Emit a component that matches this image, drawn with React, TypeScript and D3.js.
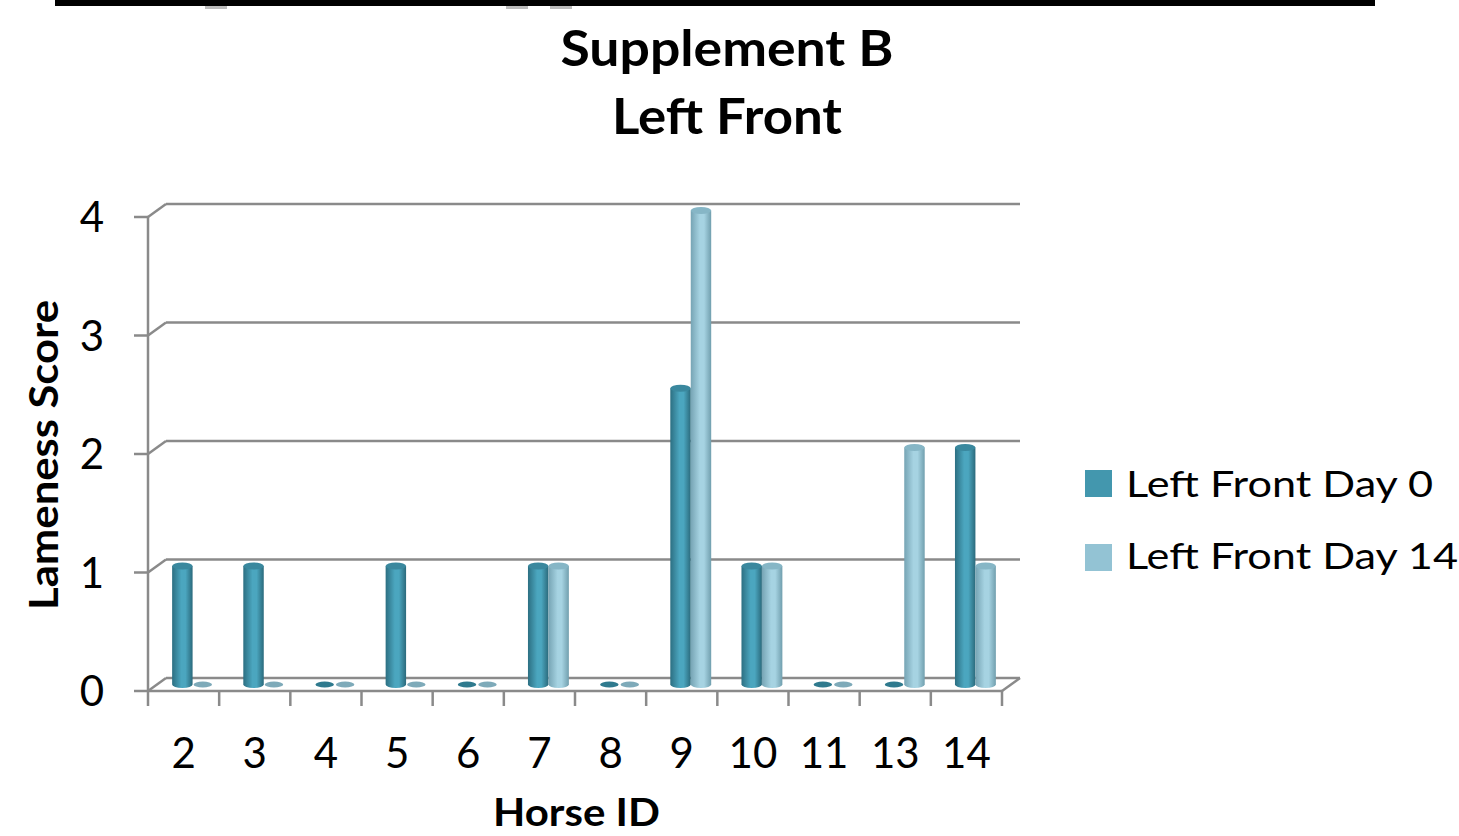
import React from "react";
import * as d3 from "d3";

const categories = ["2", "3", "4", "5", "6", "7", "8", "9", "10", "11", "13", "14"];
const seriesNames = ["Left Front Day 0", "Left Front Day 14"];
const day0 = [1, 1, 0, 1, 0, 1, 0, 2.5, 1, 0, 0, 2];
const day14 = [0, 0, 0, 0, 0, 1, 0, 4, 1, 0, 2, 1];
const yTicks = [0, 1, 2, 3, 4];
const titleLines = ["Supplement B", "Left Front"];
const xTitle = "Horse ID";
const yTitle = "Lameness Score";

const W = 1459;
const H = 836;
const FONT = "Lato, 'Open Sans', sans-serif";

const palettes = [
  { left: "#2c6f82", mid: "#4ba6bf", right: "#2b6a7c", top: "#3a889e", swatch: "#4397ae", flat: "#2f7a8e" },
  { left: "#76a4b4", mid: "#a6d3e2", right: "#719fae", top: "#86b6c6", swatch: "#93c3d4", flat: "#7eaab9" },
];

const titleLens = [333, 230];
const legendLens = [307, 332];

export default function App() {
  const x = d3.scaleBand<string>().domain(categories).range([148, 1002]).padding(0);
  const y = d3.scaleLinear().domain([0, 4]).range([691, 217]);
  const inner = d3.scaleBand<string>().domain(seriesNames).range([0, x.bandwidth()]).paddingInner(0).paddingOuter(0.74);
  const dx = 18, dy = -13;
  const mx = dx / 2, my = dy / 2;
  const seriesData = [day0, day14];
  const bw = inner.bandwidth();
  const rx = bw / 2;
  const ry = 3.5;
  const grid = "#8a8a8a";

  const bars: React.ReactNode[] = [];
  categories.forEach((c, i) => {
    seriesNames.forEach((s, k) => {
      const v = seriesData[k][i];
      const x0 = (x(c) as number) + (inner(s) as number) + mx;
      const x1 = x0 + bw;
      const cx = x0 + rx;
      const yb = y(0) + my;
      const yt = y(v) + my;
      const p = palettes[k];
      if (v === 0) {
        bars.push(<ellipse key={`${c}-${s}`} cx={cx} cy={yb} rx={rx - 1} ry={ry - 0.5} fill={p.flat} />);
      } else {
        const d = `M${x0},${yt} L${x0},${yb} A${rx},${ry} 0 0 0 ${x1},${yb} L${x1},${yt} Z`;
        bars.push(
          <g key={`${c}-${s}`}>
            <path d={d} fill={`url(#g${k})`} />
            <ellipse cx={cx} cy={yt} rx={rx} ry={ry} fill={p.top} />
          </g>
        );
      }
    });
  });

  return (
    <svg width={W} height={H} style={{ position: "absolute", left: 0, top: 0, background: "#fff" }}>
      <defs>
        {palettes.map((p, k) => (
          <linearGradient key={k} id={`g${k}`} x1="0" x2="1" y1="0" y2="0">
            <stop offset="0" stopColor={p.left} />
            <stop offset="0.45" stopColor={p.mid} />
            <stop offset="0.65" stopColor={p.mid} />
            <stop offset="1" stopColor={p.right} />
          </linearGradient>
        ))}
      </defs>
      <rect x={0} y={0} width={W} height={H} fill="#fff" />
      {/* top black bar remnant */}
      <rect x={55} y={0} width={1320} height={6} fill="#000" />
      <rect x={205} y={6} width={22} height={3} fill="#bbb" />
      <rect x={506} y={6} width={22} height={3} fill="#bbb" />
      <rect x={550} y={6} width={22} height={3} fill="#bbb" />

      {/* titles */}
      {titleLines.map((t, i) => (
        <text key={t} x={727} y={66 + i * 68} textAnchor="middle" fontFamily={FONT} fontWeight="bold" fontSize={50}
          textLength={titleLens[i]} lengthAdjust="spacingAndGlyphs" fill="#000">
          {t}
        </text>
      ))}

      {/* back wall gridlines */}
      {yTicks.map((t) => (
        <g key={`g${t}`}>
          <line x1={148} y1={y(t)} x2={148 + dx} y2={y(t) + dy} stroke={grid} strokeWidth={2.5} />
          <line x1={148 + dx} y1={y(t) + dy} x2={1002 + dx} y2={y(t) + dy} stroke={grid} strokeWidth={2.5} />
          <line x1={134} y1={y(t)} x2={148} y2={y(t)} stroke={grid} strokeWidth={2.5} />
        </g>
      ))}
      {/* floor */}
      <line x1={148} y1={y(0)} x2={1002} y2={y(0)} stroke={grid} strokeWidth={2.5} />
      <line x1={1002} y1={y(0)} x2={1002 + dx} y2={y(0) + dy} stroke={grid} strokeWidth={2.5} />
      {/* front vertical axis */}
      <line x1={148} y1={y(4)} x2={148} y2={y(0) + 15} stroke={grid} strokeWidth={2.5} />
      {categories.map((c) => (
        <line key={`t${c}`} x1={(x(c) as number) + x.bandwidth()} y1={y(0)} x2={(x(c) as number) + x.bandwidth()} y2={y(0) + 15} stroke={grid} strokeWidth={2.5} />
      ))}

      {bars}

      {/* y tick labels */}
      {yTicks.map((t) => (
        <text key={`yl${t}`} x={104} y={y(t) + 15} textAnchor="end" fontFamily={FONT} fontSize={42} fill="#000">
          {t}
        </text>
      ))}
      {/* x tick labels */}
      {categories.map((c) => (
        <text key={`xl${c}`} x={(x(c) as number) + x.bandwidth() / 2} y={768} textAnchor="middle" fontFamily={FONT} fontSize={42} fill="#000">
          {c}
        </text>
      ))}
      <text x={576.5} y={826} textAnchor="middle" fontFamily={FONT} fontWeight="bold" fontSize={39}
        textLength={167} lengthAdjust="spacingAndGlyphs" fill="#000">
        {xTitle}
      </text>
      <text transform={`translate(58,455) rotate(-90)`} textAnchor="middle" fontFamily={FONT} fontWeight="bold" fontSize={40}
        textLength={310} lengthAdjust="spacingAndGlyphs" fill="#000">
        {yTitle}
      </text>

      {/* legend */}
      {seriesNames.map((s, k) => (
        <g key={`lg${s}`}>
          <rect x={1085} y={470 + k * 74} width={27} height={27} fill={palettes[k].swatch} />
          <text x={1126} y={497 + k * 72} fontFamily={FONT} fontSize={36} textLength={legendLens[k]} lengthAdjust="spacingAndGlyphs" fill="#000">
            {s}
          </text>
        </g>
      ))}
    </svg>
  );
}
